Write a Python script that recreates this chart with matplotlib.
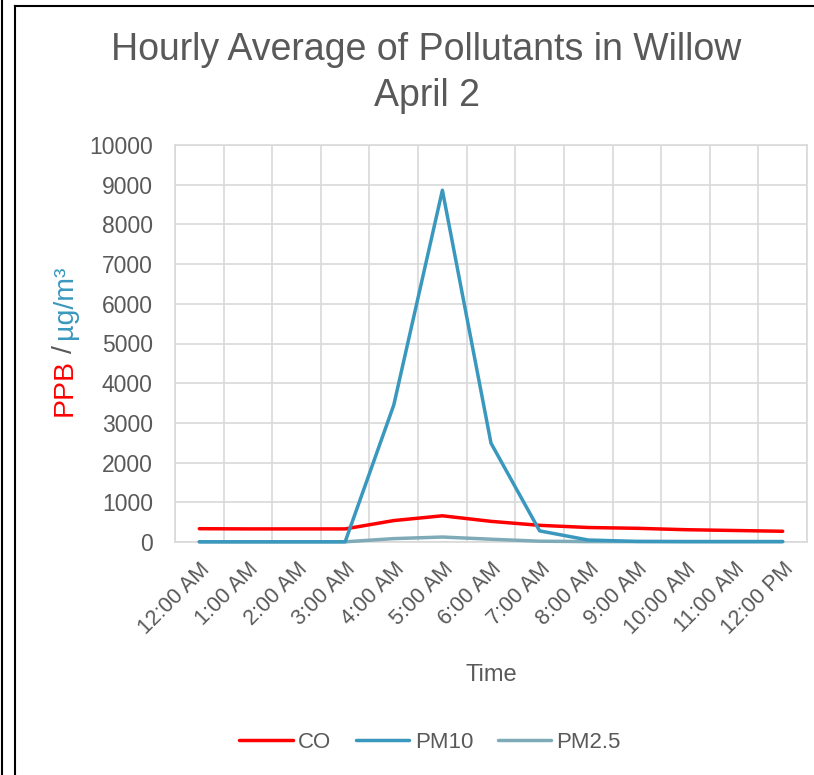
import matplotlib
matplotlib.use("Agg")
import matplotlib.pyplot as plt
from matplotlib.lines import Line2D
import numpy as np

plt.rcParams['font.family'] = ['Liberation Sans', 'DejaVu Sans']

# data
hours = ["12:00 AM", "1:00 AM", "2:00 AM", "3:00 AM", "4:00 AM", "5:00 AM", "6:00 AM",
         "7:00 AM", "8:00 AM", "9:00 AM", "10:00 AM", "11:00 AM", "12:00 PM"]
co = [335, 330, 330, 330, 540, 660, 520, 420, 365, 345, 310, 290, 270]
pm10 = [5, 5, 5, 5, 3450, 8860, 2490, 280, 50, 15, 10, 10, 10]
pm25 = [5, 5, 5, 5, 85, 125, 70, 20, 10, 10, 10, 10, 10]

grey = '#595959'
grid_c = '#D9D9D9'

fig = plt.figure(figsize=(8.14, 7.75), dpi=100)
ax = fig.add_axes([175/814, 1 - 542/775, (807 - 175)/814, (542 - 145)/775])

x = np.arange(len(hours))
ax.plot(x, co, color='#FF0000', lw=2.5, label='CO', solid_capstyle='round', clip_on=False, zorder=3)
ax.plot(x, pm10, color='#3A98BE', lw=2.5, label='PM10', solid_capstyle='round', clip_on=False, zorder=4)
ax.plot(x, pm25, color='#7FAAB8', lw=2.5, label='PM2.5', solid_capstyle='round', clip_on=False, zorder=3)

ax.set_xlim(-0.5, len(hours) - 0.5)
ax.set_ylim(0, 10000)
ax.set_yticks(np.arange(0, 10001, 1000))
ax.set_xticks(x)
ax.set_xticks(np.arange(-0.5, len(hours), 1), minor=True)
ax.set_xticklabels(hours, rotation=45, ha='right', rotation_mode='anchor')
ax.tick_params(axis='both', which='both', length=0, labelcolor=grey)
ax.tick_params(axis='y', pad=16, labelsize=16.5)
ax.tick_params(axis='x', pad=12, labelsize=15.5)
ax.grid(True, axis='y', color=grid_c, lw=1.2)
ax.grid(True, axis='x', which='minor', color=grid_c, lw=1.2)
ax.set_axisbelow(True)
for s in ax.spines.values():
    s.set_color(grid_c)
    s.set_linewidth(1.2)

ax.set_xlabel('Time', fontsize=17, color=grey, labelpad=18)

fig.text(0.524, 1 - 32/775, 'Hourly Average of Pollutants in Willow\nApril 2',
         ha='center', va='top', fontsize=27, color=grey, linespacing=1.35)

# two-colour y label, pieces stacked upwards
fig.canvas.draw()
r = fig.canvas.get_renderer()
ylab_x = 65/814
y0 = 1 - 416/775
parts = [('PPB', '#FF0000', 6), ('/', grey, 6), ('µg/m³', '#3A98BE', 0)]
for txt, c, gap in parts:
    t = fig.text(ylab_x, y0, txt, rotation=90, ha='center', va='bottom', fontsize=20.5, color=c)
    bb = t.get_window_extent(renderer=r)
    y0 += (bb.height + gap) / fig.bbox.height

fig.legend(loc='center', bbox_to_anchor=(430/814, 1 - 742/775), ncol=3, frameon=False,
           fontsize=16, labelcolor=grey, handlelength=2.4, handletextpad=0.25, columnspacing=1.1)

# frame lines
fig.add_artist(Line2D([2/814, 2/814], [0, 1], color='black', lw=1.5))
fig.add_artist(Line2D([15/814, 15/814], [0, 1 - 6/775], color='black', lw=1.5))
fig.add_artist(Line2D([15/814, 1], [1 - 6/775, 1 - 6/775], color='black', lw=1.5))

fig.savefig('out.png', dpi=100)
